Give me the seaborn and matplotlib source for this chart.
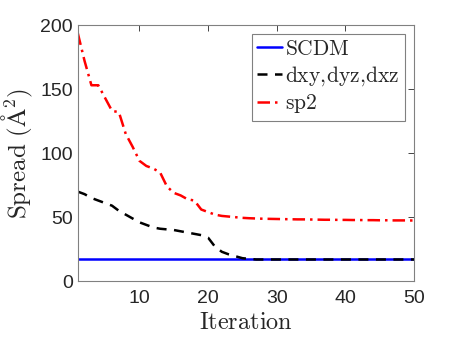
import matplotlib
matplotlib.use("Agg")
import matplotlib.pyplot as plt
import numpy as np
import pandas as pd
import seaborn as sns

iterations = list(range(1, 51))

scdm = [17.0] * 50

dxy_dyz_dxz = [70, 68, 65, 63, 61, 59, 55, 52, 49, 46,
               44, 42, 41, 40.5, 40, 39, 38, 37, 36, 34,
               27, 23, 21, 19.5, 18, 17.5, 17] + [17.0] * 23

sp2 = [194, 172, 153, 153, 143, 133, 132, 115, 105, 94,
       90, 88, 85, 74, 69, 67, 64, 63, 56, 54,
       52, 51, 50.5, 50, 49.5, 49.2, 49, 48.8, 48.7, 48.6,
       48.5, 48.4, 48.3, 48.3, 48.2, 48.1, 48.0, 48.0, 47.9, 47.9,
       47.8, 47.8, 47.7, 47.7, 47.6, 47.6, 47.5, 47.5, 47.5, 47.4]

labels = [r"$\mathrm{SCDM}$", r"$\mathrm{dxy,\!dyz,\!dxz}$", r"$\mathrm{sp2}$"]

df = pd.DataFrame({
    "Iteration": iterations * 3,
    "Spread": scdm + dxy_dyz_dxz + sp2,
    "Method": [labels[0]] * 50 + [labels[1]] * 50 + [labels[2]] * 50,
})

sns.set_style("white")
plt.rcParams["font.family"] = ["Liberation Sans", "DejaVu Sans"]
plt.rcParams["mathtext.fontset"] = "cm"

fig, ax = plt.subplots(figsize=(4.57, 3.43), dpi=100)
fig.subplots_adjust(left=0.17, right=0.906, top=0.927, bottom=0.18)

palette = {labels[0]: "#0000ff", labels[1]: "#000000", labels[2]: "#ff0000"}
sns.lineplot(data=df, x="Iteration", y="Spread", hue="Method", palette=palette,
             linewidth=1.8, ax=ax, legend=False)
styles = ["-", (0, (4, 3)), (0, (5, 2, 1, 2))]
for line, ls in zip(ax.get_lines(), styles):
    line.set_linestyle(ls)

ax.set_xlim(1, 50)
ax.set_ylim(0, 200)
ax.set_xticks([10, 20, 30, 40, 50])
ax.set_yticks([0, 50, 100, 150, 200])
ax.tick_params(direction="in", length=4, top=True, right=True, labelsize=14,
               colors="#262626", width=0.6)
ax.tick_params(axis="x", pad=6)
for s in ax.spines.values():
    s.set_color("#808080")
    s.set_linewidth(0.8)

ax.set_xlabel(r"$\mathrm{Iteration}$", fontsize=17.5, color="#262626", labelpad=4)
ax.set_ylabel(r"$\mathrm{Spread\ (\AA^2)}$", fontsize=18, color="#262626", labelpad=4)

leg = ax.legend(ax.get_lines(), labels, loc="upper right", fontsize=15.5,
                handlelength=1.15, handletextpad=0.15, borderpad=0.25,
                labelspacing=0.2, fancybox=False, framealpha=1,
                borderaxespad=0.4)
leg.get_frame().set_edgecolor("#808080")
leg.get_frame().set_linewidth(0.8)

fig.savefig("out.png", dpi=100)
